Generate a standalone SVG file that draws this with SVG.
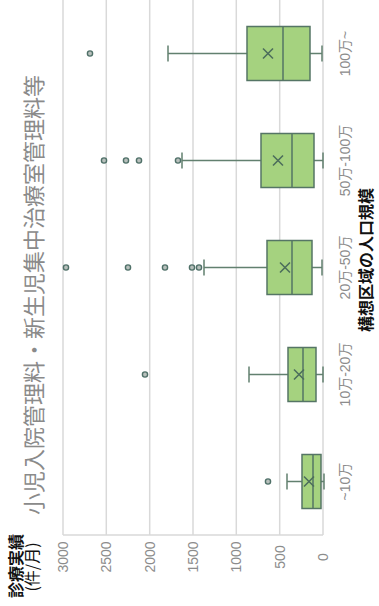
<svg xmlns="http://www.w3.org/2000/svg" width="379" height="606" viewBox="0 0 379 606">
<style>
.grid{stroke:#d9d9d9;stroke-width:1.5;fill:none}
.box{fill:#a5d27f;stroke:#557565;stroke-width:1.5}
.med{stroke:#557565;stroke-width:1.5;fill:none}
.wh{stroke:#62806f;stroke-width:1.5;fill:none}
.mean{stroke:#4d6e5c;stroke-width:1.6;fill:none}
.out{fill:#b8c0bc;stroke:#4f7068;stroke-width:1.4}
.vl{font-family:"Liberation Sans",sans-serif;font-size:14px;fill:#8c8c8c;text-anchor:middle}
.cl{font-family:"Liberation Sans","Noto Sans CJK JP",sans-serif;font-size:14px;fill:#8c8c8c;text-anchor:middle}
.title{font-family:"Noto Sans CJK JP",sans-serif;font-size:22px;fill:#8a8a8a;text-anchor:middle}
.at{font-family:"Noto Sans CJK JP",sans-serif;font-size:16px;fill:#111;text-anchor:middle}
</style>
<rect width="379" height="606" fill="#ffffff"/>
<g id="axes">
<line class="grid" x1="63" y1="0" x2="63" y2="535"/>
<line class="grid" x1="106.3" y1="0" x2="106.3" y2="535"/>
<line class="grid" x1="149.7" y1="0" x2="149.7" y2="535"/>
<line class="grid" x1="193" y1="0" x2="193" y2="535"/>
<line class="grid" x1="236.3" y1="0" x2="236.3" y2="535"/>
<line class="grid" x1="279.7" y1="0" x2="279.7" y2="535"/>
<line class="grid" x1="323" y1="0" x2="323" y2="535"/>
<line class="grid" x1="63" y1="535" x2="323" y2="535"/>
<text class="vl" transform="translate(68,557) rotate(-90)">3000</text>
<text class="vl" transform="translate(111.3,557) rotate(-90)">2500</text>
<text class="vl" transform="translate(154.7,557) rotate(-90)">2000</text>
<text class="vl" transform="translate(198,557) rotate(-90)">1500</text>
<text class="vl" transform="translate(241.3,557) rotate(-90)">1000</text>
<text class="vl" transform="translate(284.7,557) rotate(-90)">500</text>
<text class="vl" transform="translate(328,557) rotate(-90)">0</text>
<text class="cl" transform="translate(350,53.5) rotate(-90)">100万~</text>
<text class="cl" transform="translate(350,160.5) rotate(-90)">50万-100万</text>
<text class="cl" transform="translate(350,267.5) rotate(-90)">20万-50万</text>
<text class="cl" transform="translate(350,374.5) rotate(-90)">10万-20万</text>
<text class="cl" transform="translate(350,481.5) rotate(-90)">~10万</text>
</g>
<g id="titles">
<text class="title" transform="translate(42,295) rotate(-90)">小児入院管理料・新生児集中治療室管理料等</text>
<text class="at" font-weight="bold" transform="translate(22,566) rotate(-90)">診療実績</text>
<text class="at" transform="translate(38,567) rotate(-90)">(件/月)</text>
<text class="at" font-weight="bold" font-size="15.5" transform="translate(372,260) rotate(-90)">構想区域の人口規模</text>
</g>
<g id="connectors">
<path class="wh" d="M168,53.5H247M168,45.5V61.5M310,53.5H322M322,45.5V61.5"/>
<path class="wh" d="M182,160.5H261M182,152.5V168.5M314,160.5H323M323,152.5V168.5"/>
<path class="wh" d="M204,267.5H267M204,259.5V275.5M312,267.5H322M322,259.5V275.5"/>
<path class="wh" d="M249,374.5H288M249,366.5V382.5M316,374.5H323M323,366.5V382.5"/>
<path class="wh" d="M287,481.5H302M287,473.5V489.5M321,481.5H324M324,473.5V489.5"/>
</g>
<g id="box-100man">
<rect class="box" x="247" y="26.5" width="63" height="54"/>
<line class="med" x1="283" y1="26.5" x2="283" y2="80.5"/>
<path class="mean" d="M263,48.5l10,10M273,48.5l-10,10"/>
<circle class="out" cx="90" cy="53.5" r="2.6"/>
</g>
<g id="box-50-100man">
<rect class="box" x="261" y="133.5" width="53" height="54"/>
<line class="med" x1="292" y1="133.5" x2="292" y2="187.5"/>
<path class="mean" d="M273,155.5l10,10M283,155.5l-10,10"/>
<circle class="out" cx="104" cy="160.5" r="2.6"/>
<circle class="out" cx="126" cy="160.5" r="2.6"/>
<circle class="out" cx="139" cy="160.5" r="2.6"/>
<circle class="out" cx="178" cy="160.5" r="2.6"/>
</g>
<g id="box-20-50man">
<rect class="box" x="267" y="240.5" width="45" height="54"/>
<line class="med" x1="292" y1="240.5" x2="292" y2="294.5"/>
<path class="mean" d="M280,262.5l10,10M290,262.5l-10,10"/>
<circle class="out" cx="66" cy="267.5" r="2.6"/>
<circle class="out" cx="128" cy="267.5" r="2.6"/>
<circle class="out" cx="165" cy="267.5" r="2.6"/>
<circle class="out" cx="192" cy="267.5" r="2.6"/>
<circle class="out" cx="199" cy="267.5" r="2.6"/>
</g>
<g id="box-10-20man">
<rect class="box" x="288" y="347.5" width="28" height="54"/>
<line class="med" x1="303" y1="347.5" x2="303" y2="401.5"/>
<path class="mean" d="M294,369.5l10,10M304,369.5l-10,10"/>
<circle class="out" cx="145" cy="374.5" r="2.6"/>
</g>
<g id="box-under10man">
<rect class="box" x="302" y="454.5" width="19" height="54"/>
<line class="med" x1="313" y1="454.5" x2="313" y2="508.5"/>
<path class="mean" d="M304,476.5l10,10M314,476.5l-10,10"/>
<circle class="out" cx="268" cy="481.5" r="2.6"/>
</g>
</svg>
